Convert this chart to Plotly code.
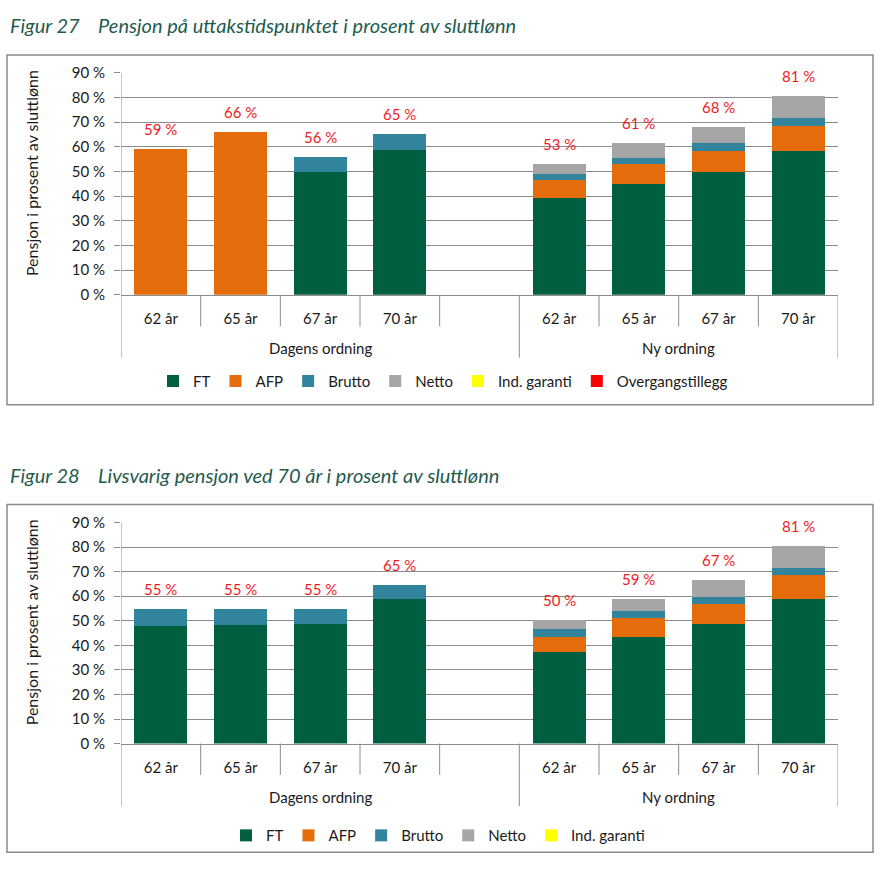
import plotly.graph_objects as go

W, H = 884, 873

# ---------------- data ----------------
ages = ["62 år", "65 år", "67 år", "70 år", "", "62 år", "65 år", "67 år", "70 år"]
groups = ["Dagens ordning", "Ny ordning"]
group_members = [[0, 1, 2, 3, 4], [5, 6, 7, 8]]
series_names = ["FT", "AFP", "Brutto", "Netto", "Ind. garanti", "Overgangstillegg"]
y_ticks = [0, 10, 20, 30, 40, 50, 60, 70, 80, 90]

# Figur 27
ft27 = [None, None, 50.0, 58.6, None, 39.3, 45.1, 49.7, 58.4]
afp27 = [59.2, 65.9, None, None, None, 7.1, 7.9, 8.6, 10.2]
brutto27 = [None, None, 6.0, 6.5, None, 2.4, 2.6, 3.2, 3.2]
netto27 = [None, None, None, None, None, 4.2, 5.8, 6.6, 8.8]
ind27 = [0, 0, 0, 0, None, 0, 0, 0, 0]
overg27 = [0, 0, 0, 0, None, 0, 0, 0, 0]
labels27 = ["59 %", "66 %", "56 %", "65 %", "", "53 %", "61 %", "68 %", "81 %"]

# Figur 28
ft28 = [47.7, 48.4, 48.8, 58.7, None, 37.1, 43.3, 48.8, 58.7]
afp28 = [None, None, None, None, None, 6.4, 7.7, 8.2, 9.8]
brutto28 = [7.0, 6.3, 5.9, 6.0, None, 3.2, 2.8, 2.5, 3.0]
netto28 = [None, None, None, None, None, 3.5, 5.1, 7.0, 9.0]
ind28 = [0, 0, 0, 0, None, 0, 0, 0, 0]
labels28 = ["55 %", "55 %", "55 %", "65 %", "", "50 %", "59 %", "67 %", "81 %"]

titles = [
    "Figur 27\u2002\u2002Pensjon på uttakstidspunktet i prosent av sluttlønn",
    "Figur 28\u2002\u2002Livsvarig pensjon ved 70 år i prosent av sluttlønn",
]
y_title = "Pensjon i prosent av sluttlønn"

# ---------------- styling ----------------
colors = {
    "FT": "#005F41",
    "AFP": "#E46C0A",
    "Brutto": "#31849B",
    "Netto": "#A6A6A6",
    "Ind. garanti": "#FFFF00",
    "Overgangstillegg": "#FF0000",
}
FONT = "Lato, Carlito, Calibri, sans-serif"
TXT = "#1a1a1a"
GRID = "#8c8c8c"
LABEL_RED = "#EE1C25"
TITLE_GREEN = "#1F5C4F"
FS = 15


def px(x):
    return x / W


def py(y):
    return 1 - y / H


panels = [
    dict(series=[ft27, afp27, brutto27, netto27, ind27, overg27], labels=labels27,
         title_y=15, box=(7, 46, 873, 403), top=64.3, bottom=290.7,
         short_b=323, long_b=355, group_y=345, legend_x=443, legend_y=379),
    dict(series=[ft28, afp28, brutto28, netto28, ind28], labels=labels28,
         title_y=475, box=(7, 505, 873, 860), top=523.3, bottom=749,
         short_b=781, long_b=813, group_y=804, legend_x=438, legend_y=843),
]

x_idx = list(range(len(ages)))
fig = go.Figure()
shapes = []
annotations = []
layout = {}

for p_i, pan in enumerate(panels):
    sfx = "" if p_i == 0 else str(p_i + 1)
    xa, ya = "x" + sfx, "y" + sfx
    leg = "legend" + sfx
    for name, vals in zip(series_names, pan["series"]):
        fig.add_trace(go.Bar(
            x=x_idx, y=vals, name=name, xaxis=xa, yaxis=ya, legend=leg,
            marker=dict(color=colors[name], line=dict(width=0)),
            width=0.665, hoverinfo="skip",
        ))
    # totals
    totals = []
    for i in x_idx:
        s = sum(v[i] for v in pan["series"] if v[i] is not None)
        totals.append(s)
    for i, lab in enumerate(pan["labels"]):
        if lab:
            annotations.append(dict(
                x=i, y=totals[i], xref=xa, yref=ya, text=lab, showarrow=False,
                yshift=20, font=dict(family=FONT, size=FS, color=LABEL_RED)))

    layout["xaxis" + sfx] = dict(
        domain=[px(121), px(838)], anchor=ya, range=[-0.5, len(ages) - 0.5],
        tickvals=x_idx, ticktext=ages, showgrid=False, zeroline=False,
        showline=True, linecolor=GRID, linewidth=1, ticks="",
        ticklabelstandoff=10, tickfont=dict(family=FONT, size=FS, color=TXT),
        fixedrange=True,
    )
    layout["yaxis" + sfx] = dict(
        domain=[py(pan["bottom"]), py(pan["top"])], anchor=xa, range=[0, 90],
        tickvals=y_ticks, ticktext=[f"{t} %" for t in y_ticks],
        showgrid=True, gridcolor=GRID, gridwidth=1, zeroline=False,
        showline=False, ticks="outside", ticklen=6, tickcolor=GRID,
        ticklabelstandoff=6, tickfont=dict(family=FONT, size=FS, color=TXT),
        fixedrange=True,
    )
    layout[leg] = dict(
        orientation="h", x=px(pan["legend_x"]), y=py(pan["legend_y"]),
        xanchor="center", yanchor="middle", traceorder="normal",
        font=dict(family=FONT, size=FS, color=TXT), bgcolor="rgba(0,0,0,0)",
        itemwidth=30, tracegroupgap=0,
    )
    # frame box
    bx0, by0, bx1, by1 = pan["box"]
    shapes.append(dict(type="rect", xref="paper", yref="paper",
                       x0=px(bx0), x1=px(bx1), y0=py(by1), y1=py(by0),
                       line=dict(color="#8c8c8c", width=1.5), layer="below"))
    # category dividers
    group_bounds = set()
    for mem in group_members:
        group_bounds.add(mem[0] - 0.5)
        group_bounds.add(mem[-1] + 0.5)
    for k in range(len(ages) + 1):
        b = k - 0.5
        if b in group_bounds:
            y_top = pan["top"] if b == -0.5 else pan["bottom"]
            y_bot = pan["long_b"]
        else:
            y_top, y_bot = pan["bottom"], pan["short_b"]
        shapes.append(dict(type="line", xref=xa, yref="paper", x0=b, x1=b,
                           y0=py(y_bot), y1=py(y_top),
                           line=dict(color=GRID, width=1)))
    # group labels
    for g, mem in zip(groups, group_members):
        annotations.append(dict(
            x=(mem[0] - 0.5 + mem[-1] + 0.5) / 2, xref=xa, y=py(pan["group_y"]),
            yref="paper", text=g, showarrow=False, yanchor="middle",
            font=dict(family=FONT, size=FS, color=TXT)))
    # y title
    annotations.append(dict(
        x=px(31), y=py((pan["top"] + pan["bottom"]) / 2 - 11), xref="paper", yref="paper",
        text=y_title, textangle=-90, showarrow=False, xanchor="center", yanchor="middle",
        font=dict(family=FONT, size=16, color=TXT)))
    # figure title
    annotations.append(dict(
        x=px(8), y=py(pan["title_y"]), xref="paper", yref="paper", text=titles[p_i],
        showarrow=False, xanchor="left", yanchor="middle",
        font=dict(family=FONT, size=20, color=TITLE_GREEN, style="italic")))

fig.update_layout(
    width=W, height=H, margin=dict(l=0, r=0, t=0, b=0),
    paper_bgcolor="white", plot_bgcolor="white", barmode="stack", bargap=0.335,
    shapes=shapes, annotations=annotations, **layout,
)

fig.write_html(
    "out.html",
    config={"displayModeBar": False},
    post_script="document.body.style.margin='0';document.body.style.overflow='hidden';",
)
